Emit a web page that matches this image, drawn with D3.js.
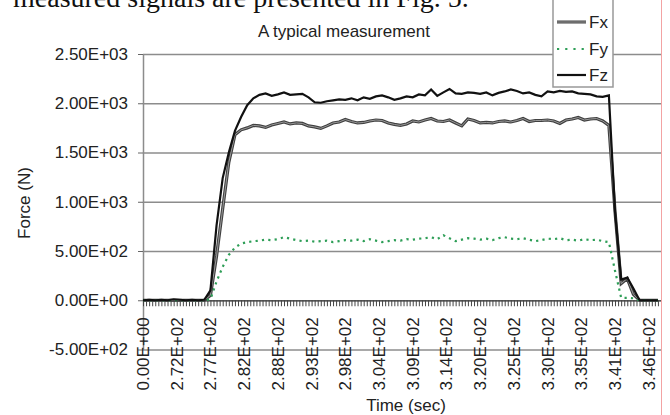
<!DOCTYPE html>
<html>
<head>
<meta charset="utf-8">
<script src="https://cdn.jsdelivr.net/npm/d3@7"></script>
<style>
  body { margin: 0; background: #fff; }
  svg { display: block; font-family: "Liberation Sans", Arial, sans-serif; }
</style>
</head>
<body>
<div id="container"></div>
<script>
/* CONSTANTS AND GLOBALS */
const width = 670,
  height = 415,
  margin = {top: 54, left: 143, bottom: 65, right: 9};

/* DATA (one value every 2nd category) */
const nCategories = 170;
const sampleStep = 2;

const timeLabels = ["0.00E+00","2.72E+02","2.77E+02","2.82E+02","2.88E+02","2.93E+02","2.98E+02","3.04E+02",
  "3.09E+02","3.14E+02","3.20E+02","3.25E+02","3.30E+02","3.35E+02","3.41E+02","3.46E+02"];
const labelInterval = 11;

const yTicks = [-500, 0, 500, 1000, 1500, 2000, 2500];
const yTickLabels = ["-5.00E+02","0.00E+00","5.00E+02","1.00E+03","1.50E+03","2.00E+03","2.50E+03"];

const fx = [0,0,0,0,0,0,0,0,0,0,0,50,450,930,1400,1680,1730,1750,1775,1770,1755,1780,1795,1810,1790,1800,
  1795,1770,1760,1745,1770,1800,1810,1835,1815,1800,1805,1820,1830,1825,1800,1785,1775,1790,1820,1810,1830,
  1845,1820,1815,1830,1800,1770,1840,1825,1800,1805,1800,1815,1820,1810,1825,1845,1815,1825,1825,1830,1820,
  1795,1830,1840,1855,1830,1840,1845,1820,1775,900,170,220,60,0,0,0,0];

const fy = [0,0,0,0,0,0,0,0,0,0,0,10,190,340,460,535,575,590,600,605,615,610,620,640,625,610,
  600,605,595,600,605,590,600,610,605,615,600,620,605,590,600,610,605,620,615,625,630,
  640,620,660,630,600,615,630,625,615,625,610,630,640,625,620,630,615,600,610,625,620,
  630,610,615,605,620,610,615,600,590,300,25,25,20,0,0,0,0];

const fz = [0,5,0,5,0,10,5,0,5,0,5,100,760,1240,1500,1720,1860,1980,2050,2085,2100,2075,2090,2110,2085,2090,
  2095,2060,2010,2005,2020,2030,2040,2035,2050,2030,2060,2045,2070,2080,2060,2035,2050,2070,2060,2090,2080,
  2140,2075,2110,2145,2100,2095,2110,2105,2095,2110,2080,2105,2120,2140,2125,2100,2110,2085,2070,2120,2110,
  2125,2115,2120,2100,2095,2090,2070,2065,2080,900,210,230,120,0,0,0,0];

const seriesNames = ["Fx", "Fy", "Fz"];

// CREATE SVG ELEMENT
const svg = d3.select("#container")
  .append("svg")
  .attr("width", width)
  .attr("height", height)

// surrounding page text, cut by the crop
svg.append("text")
  .attr("x", 13)
  .attr("y", 7)
  .attr("font-family", "'Liberation Serif', 'Times New Roman', serif")
  .attr("font-size", 28)
  .attr("fill", "#111")
  .text("measured signals are presented in Fig. 5.")

// SCALES
const xScale = d3.scaleLinear()
  .domain([0, nCategories - 1])
  .range([margin.left, width - margin.right])

const yScale = d3.scaleLinear()
  .domain([-500, 2500])
  .range([height - margin.bottom - 0.5, margin.top])

// GRIDLINES
svg.append("g")
  .attr("transform", `translate(${margin.left},0)`)
  .call(d3.axisLeft(yScale).tickValues(yTicks).tickSize(-(width - margin.right - margin.left)).tickFormat(""))
  .call(g => g.select(".domain").remove())
  .call(g => g.selectAll("line").attr("stroke", "#8c8c8c").attr("stroke-width", 1.5))

// Y AXIS
svg.append("g")
  .attr("transform", `translate(${margin.left},0)`)
  .call(d3.axisLeft(yScale).tickValues(yTicks).tickSize(5).tickSizeOuter(0).tickPadding(10)
    .tickFormat((d, i) => yTickLabels[i]))
  .call(g => g.select(".domain").attr("stroke", "#8c8c8c").attr("stroke-width", 1.5))
  .call(g => g.selectAll("line").attr("stroke", "#666"))
  .call(g => g.selectAll("text").attr("font-size", 17).attr("fill", "#222")
    .attr("font-family", "'Liberation Sans', Arial, sans-serif"))

// X AXIS (category ticks on the zero line)
svg.append("g")
  .attr("transform", `translate(0,${yScale(0)})`)
  .call(d3.axisBottom(xScale).tickValues(d3.range(nCategories)).tickSize(6).tickSizeOuter(0).tickFormat(""))
  .call(g => g.select(".domain").attr("stroke", "#555").attr("stroke-width", 1.5))
  .call(g => g.selectAll("line").attr("stroke", "#444").attr("stroke-width", 1))

// X labels, rotated
const labelIdx = timeLabels.map((d, i) => i * labelInterval)
svg.append("g")
  .selectAll("text")
  .data(timeLabels)
  .join("text")
  .attr("transform", (d, i) => `translate(${xScale(labelIdx[i]) + 6},${yScale(0) + 17}) rotate(-90)`)
  .attr("text-anchor", "end")
  .attr("font-size", 17)
  .attr("fill", "#222")
  .text(d => d)

// AXIS TITLES
svg.append("text")
  .attr("x", (margin.left + width - margin.right) / 2 + 4)
  .attr("y", 411)
  .attr("text-anchor", "middle")
  .attr("font-size", 17)
  .attr("fill", "#222")
  .text("Time (sec)")

svg.append("text")
  .attr("transform", `translate(30,203) rotate(-90)`)
  .attr("text-anchor", "middle")
  .attr("font-size", 17)
  .attr("fill", "#222")
  .text("Force (N)")

svg.append("text")
  .attr("x", 258)
  .attr("y", 37)
  .attr("font-size", 17)
  .attr("fill", "#222")
  .text("A typical measurement")

// LINE GENERATOR FUNCTION
const lineGen = d3.line()
  .x((d, i) => xScale(i * sampleStep))
  .y(d => yScale(d))

// DRAW LINES
svg.append("path").attr("d", lineGen(fx))
  .attr("fill", "none").attr("stroke", "#404040").attr("stroke-width", 3.2)
svg.append("path").attr("d", lineGen(fx))
  .attr("fill", "none").attr("stroke", "#9a9a9a").attr("stroke-width", 1)

svg.append("path").attr("d", lineGen(fy))
  .attr("fill", "none").attr("stroke", "#2e9e57").attr("stroke-width", 2.2)
  .attr("stroke-dasharray", "2.2,4.2")

svg.append("path").attr("d", lineGen(fz))
  .attr("fill", "none").attr("stroke", "#111").attr("stroke-width", 2.2)

// LEGEND
const legend = svg.append("g")
legend.append("rect")
  .attr("x", 553).attr("y", -4).attr("width", 60).attr("height", 91)
  .attr("fill", "#fff").attr("stroke", "#999").attr("stroke-width", 1.5)

const legendY = [22, 49, 75]
seriesNames.forEach((name, i) => {
  if (i === 0) {
    legend.append("line").attr("x1", 557).attr("x2", 586).attr("y1", legendY[i]).attr("y2", legendY[i])
      .attr("stroke", "#404040").attr("stroke-width", 3)
    legend.append("line").attr("x1", 557).attr("x2", 586).attr("y1", legendY[i]).attr("y2", legendY[i])
      .attr("stroke", "#9a9a9a").attr("stroke-width", 1)
  } else if (i === 1) {
    legend.append("line").attr("x1", 557).attr("x2", 586).attr("y1", legendY[i]).attr("y2", legendY[i])
      .attr("stroke", "#2e9e57").attr("stroke-width", 2.2).attr("stroke-dasharray", "2.2,6")
  } else {
    legend.append("line").attr("x1", 557).attr("x2", 586).attr("y1", legendY[i]).attr("y2", legendY[i])
      .attr("stroke", "#111").attr("stroke-width", 2.2)
  }
  legend.append("text")
    .attr("x", 589).attr("y", legendY[i]).attr("dy", "0.35em")
    .attr("font-size", 17).attr("fill", "#222")
    .text(name)
})

// thin red edge at the right of the scan
svg.append("line")
  .attr("x1", 661.5).attr("x2", 661.5).attr("y1", 0).attr("y2", height)
  .attr("stroke", "#f3a3a3").attr("stroke-width", 1)
</script>
</body>
</html>
